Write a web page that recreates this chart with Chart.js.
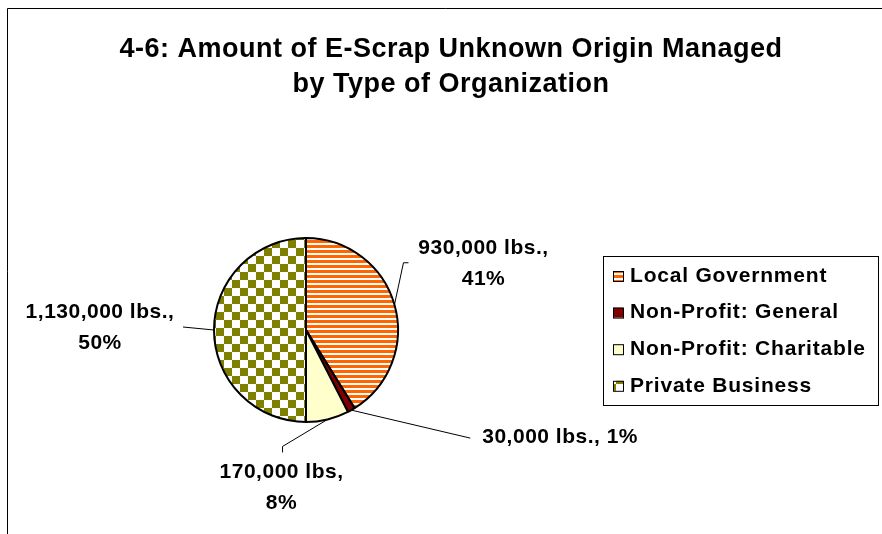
<!DOCTYPE html>
<html lang="en">
<head>
  <meta charset="UTF-8">
  <title>E-Scrap Unknown Origin by Type of Organization</title>
  <!-- Chart.js -->
  <script src="https://cdn.jsdelivr.net/npm/chart.js"></script>
  <style>
    html, body { margin: 0; padding: 0; background: #fff; }
  </style>
</head>
<body>

<canvas id="scrapChart" width="882" height="534"></canvas>

<script>
  // chart data
  var titleLines = ['4-6: Amount of E-Scrap Unknown Origin Managed', 'by Type of Organization'];
  var categories = ['Local Government', 'Non-Profit: General', 'Non-Profit: Charitable', 'Private Business'];
  var pounds = [930000, 30000, 170000, 1130000];
  var unitText = [' lbs.,', ' lbs.,', ' lbs,', ' lbs.,'];

  var FONT = '"Liberation Sans", Arial, sans-serif';

  var canvas = document.getElementById('scrapChart');
  var ctx = canvas.getContext('2d');

  // fills: orange stripes, dark red, pale yellow, olive checkerboard
  function stripePattern() {
    var c = document.createElement('canvas');
    c.width = 8; c.height = 5;
    var g = c.getContext('2d');
    g.fillStyle = '#ffffff'; g.fillRect(0, 0, 8, 5);
    g.fillStyle = '#ff6600'; g.fillRect(0, 0, 8, 3);
    return ctx.createPattern(c, 'repeat');
  }
  function checkerPattern() {
    var c = document.createElement('canvas');
    c.width = 16; c.height = 16;
    var g = c.getContext('2d');
    g.fillStyle = '#ffffff'; g.fillRect(0, 0, 16, 16);
    g.fillStyle = '#808000';
    g.fillRect(0, 0, 8, 8);
    g.fillRect(8, 8, 8, 8);
    return ctx.createPattern(c, 'repeat');
  }
  var fills = [stripePattern(), '#800000', '#ffffcc', checkerPattern()];

  // label placement, offsets from the edge point of each slice
  var labelLayout = [
    { leader: [[9, -42], [14, -42]], text: [89, -57], align: 'center', twoLines: true },
    { leader: [[119, 28]], text: [131, 27], align: 'left', twoLines: false },
    { leader: [[-45, 27], [-45, 33]], text: [-46, 53], align: 'center', twoLines: true },
    { leader: [[-31, -3]], text: [-114, -18], align: 'center', twoLines: true }
  ];

  function fmt(n) { return n.toLocaleString('en-US'); }

  var decorPlugin = {
    id: 'decor',
    afterDraw: function (chart) {
      var c = chart.ctx;
      var total = pounds.reduce(function (a, b) { return a + b; }, 0);
      c.save();

      // outer frame
      c.strokeStyle = '#000';
      c.lineWidth = 1;
      c.beginPath();
      c.moveTo(7.5, 540); c.lineTo(7.5, 8.5); c.lineTo(890, 8.5);
      c.stroke();

      // title
      c.fillStyle = '#000';
      c.font = 'bold 27px ' + FONT;
      c.letterSpacing = '0.5px';
      c.textAlign = 'center';
      c.textBaseline = 'alphabetic';
      c.fillText(titleLines[0], 451, 57);
      c.fillText(titleLines[1], 451, 92);

      // slice labels with leader lines
      var arcs = chart.getDatasetMeta(0).data;
      c.font = 'bold 21px ' + FONT;
      c.textBaseline = 'middle';
      arcs.forEach(function (arc, i) {
        var mid = (arc.startAngle + arc.endAngle) / 2;
        var ex = arc.x + Math.cos(mid) * arc.outerRadius;
        var ey = arc.y + Math.sin(mid) * arc.outerRadius;
        var lay = labelLayout[i];

        c.lineWidth = 1;
        c.beginPath();
        c.moveTo(ex, ey);
        lay.leader.forEach(function (p) { c.lineTo(ex + p[0], ey + p[1]); });
        c.stroke();

        var pct = Math.round(pounds[i] / total * 100) + '%';
        var tx = ex + lay.text[0], ty = ey + lay.text[1];
        c.textAlign = lay.align;
        if (lay.twoLines) {
          c.fillText(fmt(pounds[i]) + unitText[i], tx, ty);
          c.fillText(pct, tx, ty + 31);
        } else {
          c.fillText(fmt(pounds[i]) + unitText[i] + ' ' + pct, tx, ty);
        }
      });

      // legend box
      c.lineWidth = 1;
      c.strokeRect(603.5, 256.5, 275, 149);
      c.textAlign = 'left';
      c.font = 'bold 21px ' + FONT;
      c.letterSpacing = '0.8px';
      categories.forEach(function (name, i) {
        var y = 276 + i * 36.6;
        c.fillStyle = fills[i];
        c.fillRect(613, y - 5, 10, 10);
        c.strokeStyle = '#000';
        c.strokeRect(613.5, y - 4.5, 10, 10);
        c.fillStyle = '#000';
        c.fillText(name, 630, y);
      });

      c.restore();
    }
  };

  var scrapChart = new Chart(ctx, {
    type: 'pie',
    data: {
      labels: categories,
      datasets: [{
        data: pounds,
        backgroundColor: fills,
        borderColor: '#000000',
        borderWidth: 2
      }]
    },
    options: {
      responsive: false,
      animation: false,
      layout: {
        padding: { left: 213, right: 483, top: 237, bottom: 111 }
      },
      plugins: {
        legend: { display: false },
        tooltip: { enabled: false },
        title: { display: false }
      }
    },
    plugins: [decorPlugin]
  });
</script>

</body>
</html>
